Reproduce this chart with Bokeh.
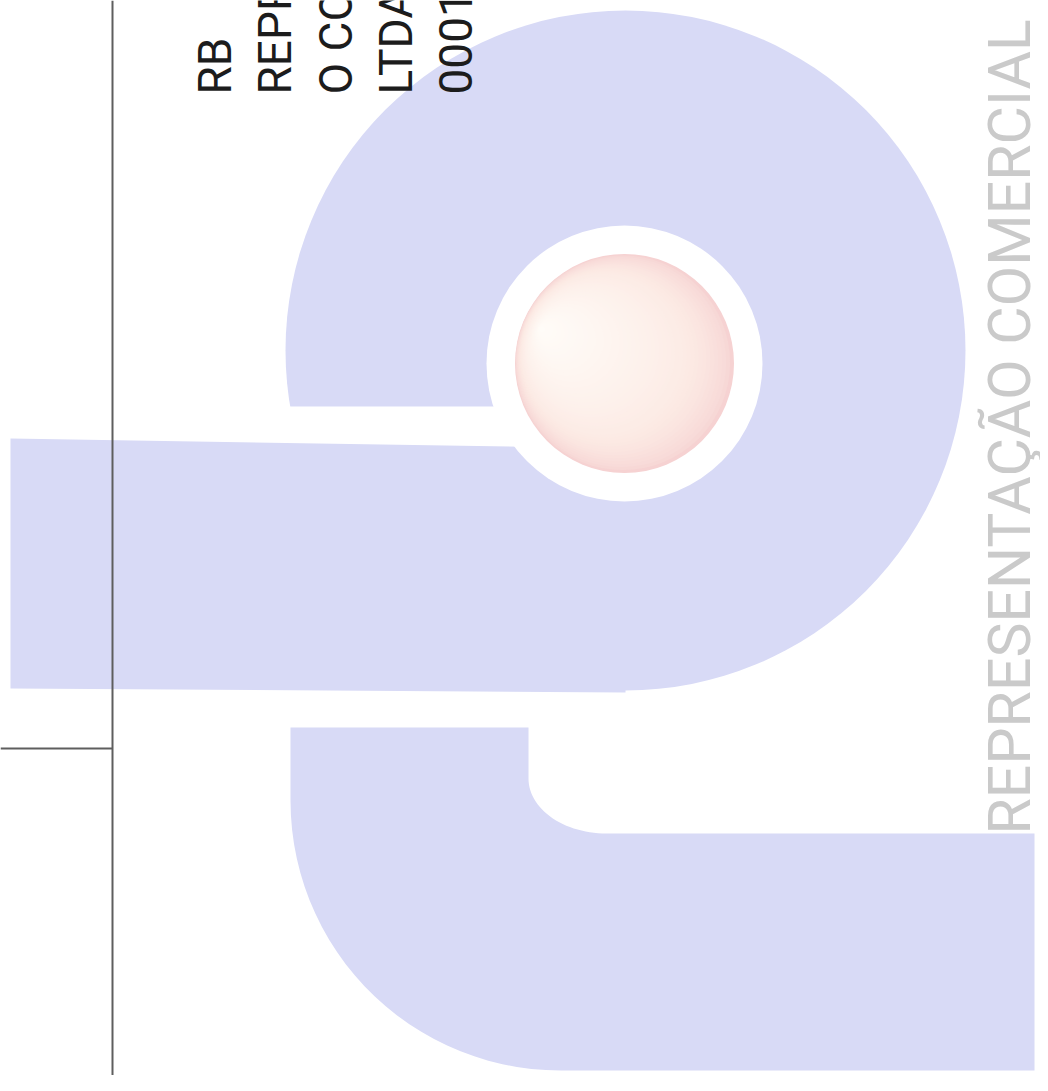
import numpy as np
from bokeh.plotting import figure
from bokeh.models import Range1d
from bokeh.embed import file_html
from bokeh.resources import INLINE
from bokeh.core.properties import value

# ---------------- content ----------------
doc_lines = ["RB", "REPR", "O CO", "LTDA", "0001"]
brand_text = "REPRESENTAÇÃO COMERCIAL"

# ---------------- layout (page pixels) ----------------
doc_anchor_x = [214, 274, 335, 395, 455]
doc_anchor_y = [94, 94, 94, 94, 94]
brand_anchor = (1009, 834)

big_circle = dict(cx=625, cy=350, r=340)
ring = dict(cx=624, cy=363, r=138)
ball = dict(cx=624, cy=363, r=109)
highlight = dict(x=540, y=328)

bar_x = [10, 625, 625, 10]
bar_y = [438, 448, 692, 688]
band_x = [270, 560, 560, 270]
band_y = [406, 406, 470, 470]

lower_left, lower_top, lower_right, lower_bottom = 290, 727, 1034, 1070
notch_x, notch_floor = 528, 833
notch_rx, notch_ry = 78, 55
corner_r = 270

LAV = "#d8daf6"
INK = "#1c1c1c"
GREY = "#cacaca"
RULE = "#5e5e5e"
PINK = np.array([246, 210, 210])
MID = np.array([252, 234, 228])
CREAM = np.array([255, 252, 248])

W, H = 1040, 1075
p = figure(width=W, height=H, x_range=Range1d(0, W), y_range=Range1d(H, 0),
           output_backend="svg", toolbar_location=None, x_axis_type=None, y_axis_type=None,
           min_border=0, background_fill_color="white", border_fill_color="white")
p.grid.visible = False
p.outline_line_color = None

# big rounded head of the logo
p.circle(x=[big_circle["cx"]], y=[big_circle["cy"]], radius=big_circle["r"],
         fill_color=LAV, line_color=None)
# white band separating head and bar
p.patch(band_x, band_y, fill_color="white", line_color=None)
# horizontal bar
p.patch(bar_x, bar_y, fill_color=LAV, line_color=None)

# lower block with notch and large rounded corner
th = np.linspace(0, np.pi / 2, 30)
ncx, ncy = notch_x + notch_rx, notch_floor - notch_ry
notch_px = ncx - notch_rx * np.cos(th)
notch_py = ncy + notch_ry * np.sin(th)
ccx, ccy = lower_left + corner_r, lower_bottom - corner_r
corner_px = ccx - corner_r * np.sin(th)
corner_py = ccy + corner_r * np.cos(th)
lx = np.concatenate([[lower_left, notch_x], notch_px, [lower_right, lower_right], corner_px])
ly = np.concatenate([[lower_top, lower_top], notch_py, [notch_floor, lower_bottom], corner_py])
p.patch(lx, ly, fill_color=LAV, line_color=None)

# white ring
p.circle(x=[ring["cx"]], y=[ring["cy"]], radius=ring["r"], fill_color="white", line_color=None)

# shaded ball (nested circles shrinking toward highlight)
N = 50
t = np.linspace(0, 1, N)
bx = ball["cx"] + t * (highlight["x"] - ball["cx"])
by = ball["cy"] + t * (highlight["y"] - ball["cy"])
br = ball["r"] * (1 - t) + 0.5
cols = []
for tt in t:
    s = tt ** 0.6
    if s < 0.4:
        c = PINK + (MID - PINK) * (s / 0.4)
    else:
        c = MID + (CREAM - MID) * ((s - 0.4) / 0.6)
    cols.append("#%02x%02x%02x" % tuple(int(round(v)) for v in c))
p.circle(x=bx, y=by, radius=br, fill_color=cols, line_color=None)

# rules
p.line([112, 112], [0, 1100], line_color=RULE, line_width=2)
p.line([0, 112], [748, 748], line_color=RULE, line_width=2)

# vertical document text
p.text(x=doc_anchor_x, y=doc_anchor_y, text=doc_lines, angle=np.pi / 2,
       text_font=value("Roboto"), text_font_size="46px", text_color=INK,
       text_align="left", text_baseline="alphabetic")

# brand text
p.text(x=[brand_anchor[0]], y=[brand_anchor[1]], text=[brand_text], angle=np.pi / 2,
       text_font=value("Roboto"), text_font_size="59px", text_color=GREY,
       text_align="left", text_baseline="alphabetic")

open("out.html", "w").write(file_html(p, INLINE))
